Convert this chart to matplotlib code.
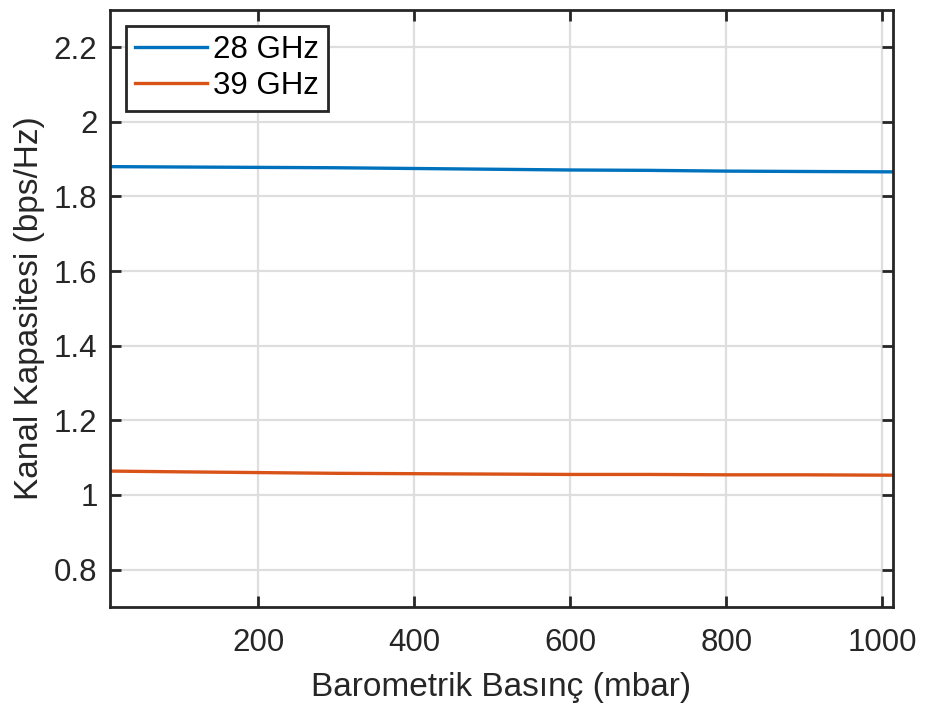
import matplotlib
matplotlib.use("Agg")
import matplotlib.pyplot as plt

pressure = [10, 100, 200, 300, 400, 500, 600, 700, 800, 900, 1013]
cap_28 = [1.880, 1.879, 1.878, 1.877, 1.875, 1.873, 1.871, 1.870, 1.868, 1.867, 1.866]
cap_39 = [1.064, 1.062, 1.060, 1.058, 1.057, 1.056, 1.055, 1.055, 1.054, 1.054, 1.053]
xticks = [200, 400, 600, 800, 1000]
yticks = [0.8, 1.0, 1.2, 1.4, 1.6, 1.8, 2.0, 2.2]
ytick_labels = ["0.8", "1", "1.2", "1.4", "1.6", "1.8", "2", "2.2"]

plt.rcParams['font.family'] = ['Liberation Sans', 'DejaVu Sans']
fig = plt.figure(figsize=(9.25, 7.09), dpi=100)
ax = fig.add_axes([0.119, 0.144, 0.846, 0.842])

ax.plot(pressure, cap_28, color='#0072BD', lw=2.4, label='28 GHz')
ax.plot(pressure, cap_39, color='#D95319', lw=2.4, label='39 GHz')

ax.set_xlim(10, 1013)
ax.set_ylim(0.7, 2.3)
ax.set_xticks(xticks)
ax.set_yticks(yticks)
ax.set_yticklabels(ytick_labels)
ax.grid(True, color='#DEDEDE', lw=1.6)
ax.set_axisbelow(True)
for s in ax.spines.values():
    s.set_color('#262626')
    s.set_linewidth(2)
ax.tick_params(direction='in', length=8, width=2, color='#262626',
               labelsize=22.5, labelcolor='#262626', top=True, right=True)
ax.tick_params(axis='x', pad=15)
ax.tick_params(axis='y', pad=9)
ax.set_xlabel('Barometrik Basınç (mbar)', fontsize=24, color='#262626', labelpad=10)
ax.set_ylabel('Kanal Kapasitesi (bps/Hz)', fontsize=24, color='#262626', labelpad=6)

leg = ax.legend(loc='upper left', fontsize=22.5, fancybox=False, framealpha=1,
                edgecolor='#262626', handlelength=2.3, borderaxespad=0.5,
                borderpad=0.3, handletextpad=0.2, labelspacing=0.2)
leg.get_frame().set_linewidth(2)

fig.savefig('out.png', dpi=100)
